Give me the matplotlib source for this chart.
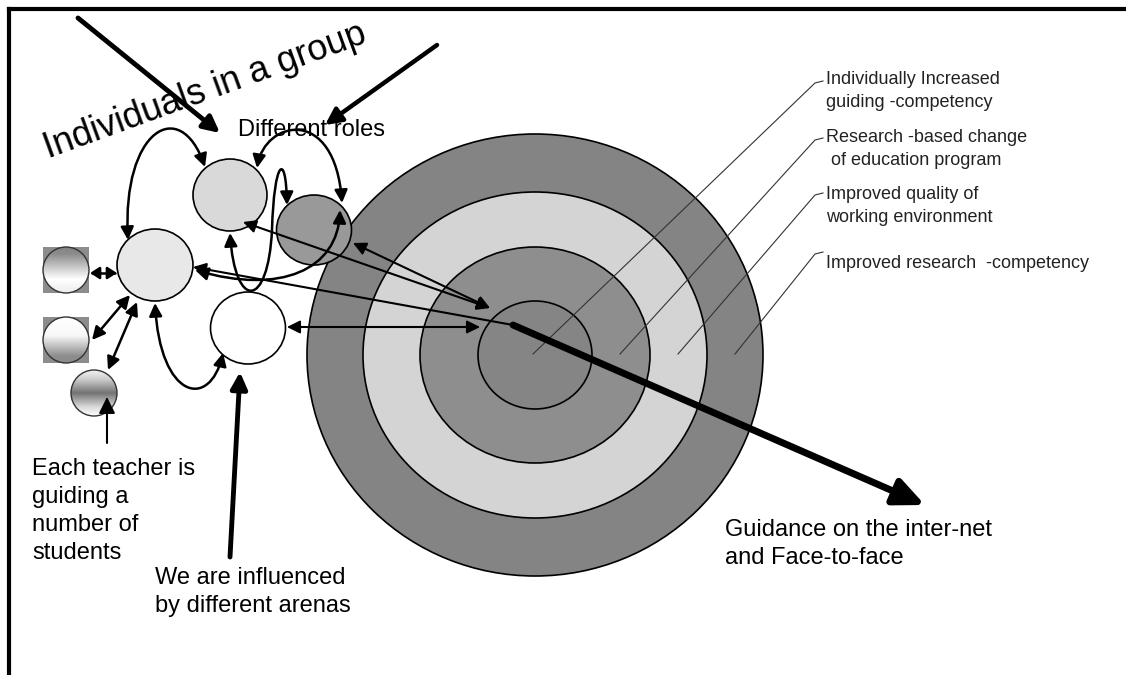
import numpy as np
import matplotlib
matplotlib.use("Agg")
import matplotlib.pyplot as plt
from matplotlib.patches import Ellipse, Circle, Rectangle, FancyArrowPatch
from matplotlib.path import Path

plt.rcParams['font.family'] = ['Liberation Sans', 'DejaVu Sans']

# target rings, outer to inner: (half width, half height, fill)
ring_rx = [228, 172, 115, 57]
ring_ry = [221, 163, 108, 54]
ring_col = ['#848484', '#d4d4d4', '#8e8e8e', '#858585']
target_c = (535, 355)

# outcome labels on the right, with the point in the target where each leader starts
outcome_labels = ["Individually Increased\nguiding -competency",
                  "Research -based change\n of education program",
                  "Improved quality of\nworking environment",
                  "Improved research  -competency"]
leader_x0 = [533, 620, 678, 735]
leader_top = [83, 140, 195, 254]
label_y = [91, 149, 206, 264]

# people in the group
node_xy = [(230, 195), (314, 230), (155, 265), (248, 328)]
node_wh = [(74, 72), (75, 70), (76, 72), (75, 72)]
node_col = ['#d9d9d9', '#999999', '#e8e8e8', '#ffffff']

# students (gradient circles): centre, square behind?, gradient stops (pos, grey)
stud_xy = [(66, 270), (66, 340), (94, 393)]
stud_sq = [True, True, False]
stud_grad = [([0, 0.15, 0.7, 1.0], [0.52, 0.55, 1.0, 0.92]),
             ([0, 0.4, 0.85, 1.0], [1.0, 0.97, 0.55, 0.55]),
             ([0, 0.2, 0.5, 0.8, 1.0], [0.95, 0.8, 0.45, 0.85, 1.0])]

fig = plt.figure(figsize=(11.26, 6.75), dpi=100)
ax = fig.add_axes([0, 0, 1, 1])
ax.set_xlim(0, 1126)
ax.set_ylim(675, 0)
ax.axis('off')

# frame
ax.plot([9, 9], [675, 9], color='black', lw=3, solid_capstyle='projecting')
ax.plot([9, 1126], [9, 9], color='black', lw=3, solid_capstyle='projecting')

for rx, ry, c in zip(ring_rx, ring_ry, ring_col):
    ax.add_patch(Ellipse(target_c, 2 * rx, 2 * ry, fc=c, ec='black', lw=1.2, zorder=1))

for x0, top in zip(leader_x0, leader_top):
    ax.plot([x0, 815, 823], [target_c[1] - 1, top, top - 2], color='#333333', lw=0.8, zorder=2)
for txt, y in zip(outcome_labels, label_y):
    ax.text(826, y, txt, fontsize=13, color='#222222', va='center', ha='left', linespacing=1.45)

for (x, y), (w, h), c in zip(node_xy, node_wh, node_col):
    ax.add_patch(Ellipse((x, y), w, h, fc=c, ec='black', lw=1.2, zorder=3))

for (x, y), sq, (pos, val) in zip(stud_xy, stud_sq, stud_grad):
    r = 23
    if sq:
        ax.add_patch(Rectangle((x - r, y - r), 2 * r, 2 * r, fc='#8c8c8c', ec='none', zorder=3))
    g = np.interp(np.linspace(0, 1, 120), pos, val)
    im = ax.imshow(np.repeat(g[:, None], 2, axis=1), cmap='gray', vmin=0, vmax=1,
                   extent=(x - r, x + r, y + r, y - r), origin='upper', aspect='auto',
                   interpolation='bilinear', zorder=3.1)
    clip = Circle((x, y), r, transform=ax.transData)
    im.set_clip_path(clip)
    ax.add_patch(Circle((x, y), r, fc='none', ec='#333333', lw=1.0, zorder=3.2))

ax.set_xlim(0, 1126)
ax.set_ylim(675, 0)


def arrow(pts, style='<|-|>', lw=1.8, ms=11, hl=0.7, hw=0.35, z=4):
    if len(pts) == 2:
        codes = [Path.MOVETO, Path.LINETO]
    else:
        codes = [Path.MOVETO] + [Path.CURVE4] * (len(pts) - 1)
    p = FancyArrowPatch(path=Path(pts, codes),
                        arrowstyle='%s,head_length=%s,head_width=%s' % (style, hl, hw),
                        mutation_scale=ms, lw=lw, color='black', zorder=z)
    ax.add_patch(p)


# curved links between people
arrow([(128, 240), (122, 130), (180, 95), (205, 167)])
arrow([(257, 168), (265, 120), (335, 105), (342, 203)])
arrow([(230, 233), (235, 310), (268, 310), (272, 230), (274, 160), (286, 150), (287, 205)])
arrow([(340, 210), (338, 270), (280, 295), (195, 270)])
arrow([(155, 303), (160, 400), (210, 410), (223, 353)])

# links into the target
arrow([(243, 222), (490, 308)], lw=1.5)
arrow([(353, 243), (490, 308)], lw=1.5)
arrow([(193, 267), (513, 325)], style='<|-', lw=1.5)
arrow([(287, 327), (480, 327)], lw=1.5)

# students
arrow([(90, 273), (117, 273)], ms=8, hw=0.45)
arrow([(130, 295), (92, 340)])
arrow([(137, 302), (108, 370)])
arrow([(107, 443), (107, 397)], style='-|>', lw=1.5, ms=14)

# external influences
arrow([(78, 18), (220, 133)], style='-|>', lw=3.5, ms=14)
arrow([(437, 45), (325, 125)], style='-|>', lw=3.2, ms=14)
arrow([(230, 557), (240, 372)], style='-|>', lw=3.5, ms=14)
arrow([(513, 325), (925, 505)], style='-|>', lw=5, ms=18, hl=1.0, hw=0.45, z=6)

ax.text(48, 158, "Individuals in a group", fontsize=26, rotation=20,
        rotation_mode='anchor', ha='left', va='baseline', zorder=5)
ax.text(238, 130, "Different roles", fontsize=17, ha='left', va='center', zorder=5)
ax.text(32, 511, "Each teacher is\nguiding a\nnumber of\nstudents", fontsize=17,
        ha='left', va='center', linespacing=1.36, zorder=5)
ax.text(155, 592, "We are influenced\nby different arenas", fontsize=17,
        ha='left', va='center', linespacing=1.36, zorder=5)
ax.text(725, 544, "Guidance on the inter-net\nand Face-to-face", fontsize=17,
        ha='left', va='center', linespacing=1.36, zorder=5)

fig.savefig('out.png', dpi=100)
